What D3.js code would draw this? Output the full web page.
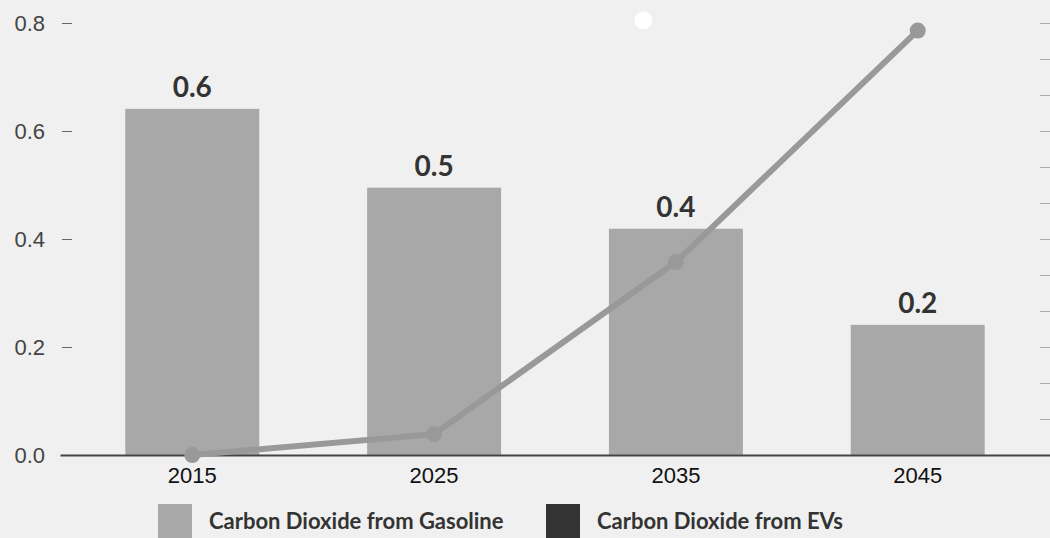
<!DOCTYPE html>
<html>
<head>
<meta charset="utf-8">
<script src="https://cdn.jsdelivr.net/npm/d3@7"></script>
<style>
  html, body { margin: 0; padding: 0; background: #f0f0f0; }
  svg { display: block; font-family: Lato, 'Open Sans', sans-serif; }
</style>
</head>
<body>
<div id="chart"></div>
<script>
// chart data
const years = ['2015', '2025', '2035', '2045']
const gasoline = [0.641, 0.495, 0.419, 0.241]
const evs = [0, 0.58, 5.36, 11.79]
const leftTicks = [0, 0.2, 0.4, 0.6, 0.8]
const rightTicks = [0, 1, 2, 3, 4, 5, 6, 7, 8, 9, 10, 11, 12]
const seriesNames = ['Carbon Dioxide from Gasoline', 'Carbon Dioxide from EVs']
// lone white marker near the top of the plot (category index, left-axis value)
const highlight = [{ at: 1.865, value: 0.805 }]

const W = 1050, H = 538
const m = { t: 23, r: 0, b: 83, l: 60 }
const h = H - m.t - m.b

const svg = d3.select('#chart').append('svg')
  .attr('width', W).attr('height', H)

const g = svg.append('g').attr('transform', 'translate(' + m.l + ',' + m.t + ')')

const x = d3.scaleBand()
  .domain(years)
  .range([0, W - m.l - m.r])
  .paddingInner(0.446)
  .paddingOuter(0.27)

const y = d3.scaleLinear().domain([0, 0.8]).range([h, 0])
const y2 = d3.scaleLinear().domain([0, 12]).range([h, 0])

// left axis: labels + short dashes, no domain line
const yAxis = g.append('g')
  .call(d3.axisLeft(y).tickValues(leftTicks).tickFormat(d3.format('.1f')).tickSize(0))
yAxis.select('.domain').remove()
yAxis.selectAll('text').attr('fill', '#444').style('font-size', '22px').attr('x', -15)
yAxis.selectAll('.tick').append('line')
  .attr('x1', 2).attr('x2', 12)
  .attr('stroke', '#666').attr('stroke-width', 1)

// right axis: ticks only
const y2Axis = g.append('g')
  .attr('transform', 'translate(' + (W - m.l) + ',0)')
  .call(d3.axisLeft(y2).tickValues(rightTicks).tickFormat('').tickSize(10))
y2Axis.select('.domain').remove()
y2Axis.selectAll('line').attr('stroke', '#aaa')

// bars
g.selectAll('.bar').data(years).enter().append('rect')
  .attr('class', 'bar')
  .attr('x', d => x(d))
  .attr('y', (d, i) => y(gasoline[i]))
  .attr('width', x.bandwidth())
  .attr('height', (d, i) => h - y(gasoline[i]))
  .attr('fill', '#a8a8a8')

// bar value labels
g.selectAll('.val').data(years).enter().append('text')
  .attr('class', 'val')
  .attr('x', d => x(d) + x.bandwidth() / 2)
  .attr('y', (d, i) => y(gasoline[i]) - 12)
  .attr('text-anchor', 'middle')
  .attr('fill', '#333')
  .style('font-size', '28px')
  .style('font-weight', 'bold')
  .text((d, i) => d3.format('.1f')(gasoline[i]))

// baseline + x labels
const xAxis = g.append('g')
  .attr('transform', 'translate(0,' + h + ')')
  .call(d3.axisBottom(x).tickSize(0).tickPadding(12))
xAxis.select('.domain').attr('stroke', '#444').attr('stroke-width', 2)
xAxis.selectAll('text').attr('fill', '#111').style('font-size', '22px')

// EV line
const cx = d => x(d) + x.bandwidth() / 2
const line = d3.line().x((d, i) => cx(years[i])).y(d => y2(d))
g.append('path').datum(evs)
  .attr('d', line)
  .attr('fill', 'none')
  .attr('stroke', '#999')
  .attr('stroke-width', 6)
g.selectAll('.pt').data(evs).enter().append('circle')
  .attr('class', 'pt')
  .attr('cx', (d, i) => cx(years[i]))
  .attr('cy', d => y2(d))
  .attr('r', 8)
  .attr('fill', '#999')

// white marker
const xi = d3.scaleLinear().domain(years.map((d, i) => i)).range(years.map(cx))
g.selectAll('.hl').data(highlight).enter().append('circle')
  .attr('cx', d => xi(d.at))
  .attr('cy', d => y(d.value))
  .attr('r', 9)
  .attr('fill', '#fff')

// legend
const legendColors = ['#a8a8a8', '#333']
const lg = svg.append('g').attr('transform', 'translate(158,' + (H - 34) + ')')
const item = lg.selectAll('.item').data(seriesNames).enter().append('g')
  .attr('transform', (d, i) => 'translate(' + (i * 388) + ',0)')
item.append('rect')
  .attr('width', 34).attr('height', 34)
  .attr('fill', (d, i) => legendColors[i])
item.append('text')
  .attr('x', 51).attr('y', 25)
  .attr('fill', '#333')
  .style('font-size', '22px')
  .style('font-weight', 'bold')
  .text(d => d)
</script>
</body>
</html>
